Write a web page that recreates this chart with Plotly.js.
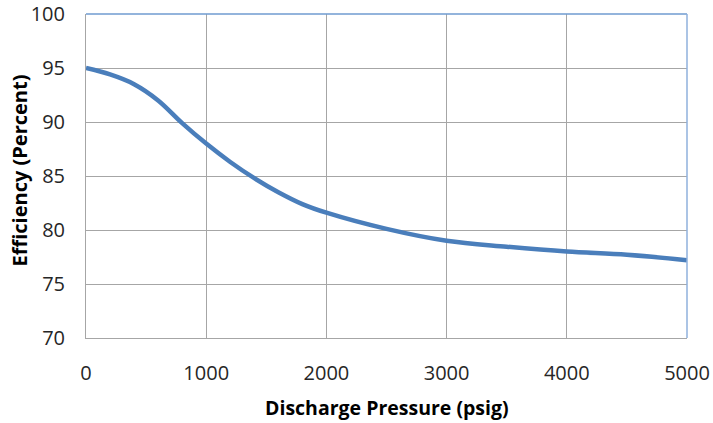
<!DOCTYPE html>
<html><head><meta charset="utf-8">
<script src="https://cdn.plot.ly/plotly-3.0.1.min.js"></script>
<style>html,body{margin:0;padding:0;background:#fff}#chart{width:713px;height:423px}</style>
</head><body><div id="chart"></div>
<script>
const pressure = [0, 200, 400, 600, 800, 1000, 1200, 1400, 1600, 1800, 2000, 2500, 3000, 3500, 4000, 4500, 5000];
const efficiency = [95.0, 94.4, 93.5, 92.0, 89.9, 88.0, 86.3, 84.8, 83.5, 82.4, 81.6, 80.1, 79.0, 78.45, 78.0, 77.7, 77.2];
const xTicks = [0, 1000, 2000, 3000, 4000, 5000];
const yTicks = [70, 75, 80, 85, 90, 95, 100];
const xTitle = 'Discharge Pressure (psig)';
const yTitle = 'Efficiency (Percent)';

const font = "Open Sans, Liberation Sans, sans-serif";
Plotly.newPlot('chart', [{
  x: pressure, y: efficiency, type: 'scatter', mode: 'lines',
  line: {color: '#4a7ebb', width: 4.5, shape: 'spline', smoothing: 1}
}], {
  width: 713, height: 423,
  margin: {l: 86, r: 26, t: 14, b: 85},
  paper_bgcolor: '#fff', plot_bgcolor: '#fff',
  showlegend: false,
  font: {family: font, color: '#262626', size: 20},
  xaxis: {range: [0, 5000], tickvals: xTicks, ticktext: xTicks.map(String),
    showgrid: true, gridcolor: '#a6a6a6', gridwidth: 1, zeroline: false,
    showline: true, linecolor: '#a6a6a6', linewidth: 1, ticks: '',
    ticklabelstandoff: 17,
    tickfont: {size: 20, family: font, color: '#262626'}, automargin: false},
  yaxis: {range: [70, 100], tickvals: yTicks, ticktext: yTicks.map(String),
    showgrid: true, gridcolor: '#a6a6a6', gridwidth: 1, zeroline: false,
    showline: true, linecolor: '#a6a6a6', linewidth: 1, ticks: '',
    ticklabelstandoff: 16,
    tickfont: {size: 20, family: font, color: '#262626'}, automargin: false},
  annotations: [
    {text: '<b>' + xTitle + '</b>', xref: 'paper', yref: 'paper', x: 0.5, y: 0,
     xanchor: 'center', yanchor: 'middle', yshift: -69, showarrow: false,
     font: {size: 19.5, family: font, color: '#000'}},
    {text: '<b>' + yTitle + '</b>', xref: 'paper', yref: 'paper', x: 0, y: 0.517,
     xanchor: 'center', yanchor: 'middle', xshift: -67, textangle: -90, showarrow: false,
     font: {size: 20, family: font, color: '#000'}}
  ],
  shapes: [
    {type: 'line', xref: 'paper', yref: 'paper', x0: 0, x1: 1, y0: 1, y1: 1, line: {color: '#6f9bd1', width: 1.5}},
    {type: 'line', xref: 'paper', yref: 'paper', x0: 1, x1: 1, y0: 0, y1: 1, line: {color: '#8fb0dc', width: 1.5}}
  ]
}, {staticPlot: true});
</script></body></html>
